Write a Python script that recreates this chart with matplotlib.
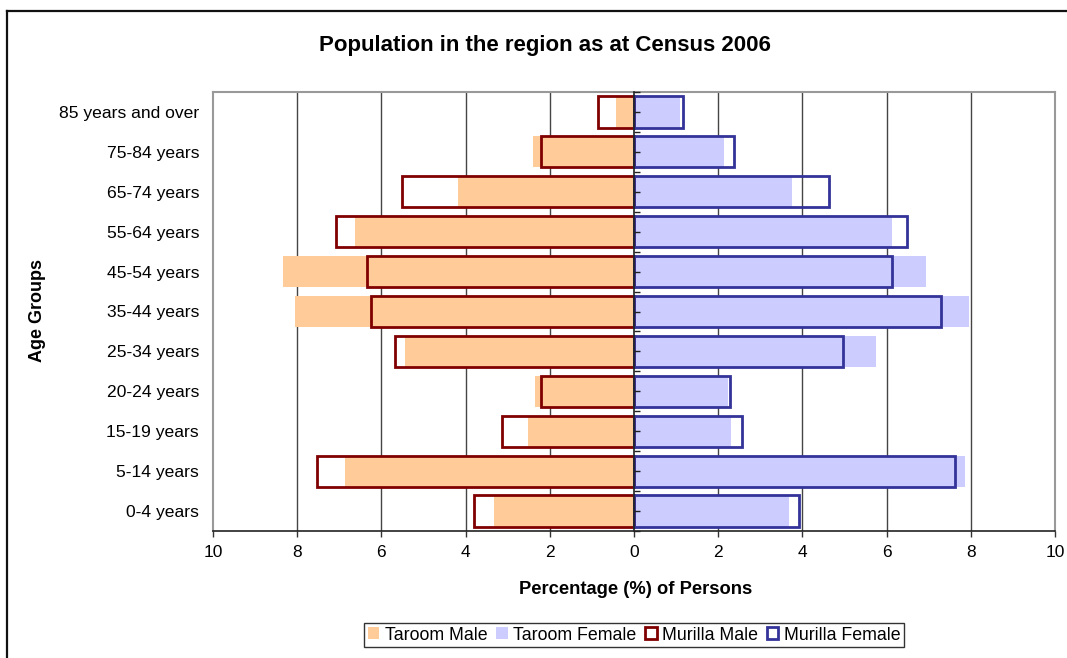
import matplotlib
matplotlib.use("Agg")
import matplotlib.pyplot as plt
from matplotlib.patches import Patch
from matplotlib.lines import Line2D
import numpy as np

plt.rcParams['font.family'] = ['Liberation Sans', 'DejaVu Sans']

categories = ["0-4 years", "5-14 years", "15-19 years", "20-24 years", "25-34 years",
              "35-44 years", "45-54 years", "55-64 years", "65-74 years", "75-84 years",
              "85 years and over"]
taroom_male = [3.33, 6.86, 2.52, 2.35, 5.43, 8.05, 8.33, 6.62, 4.19, 2.40, 0.43]
taroom_female = [3.67, 7.86, 2.31, 2.24, 5.76, 7.95, 6.93, 6.12, 3.76, 2.14, 1.10]
murilla_male = [3.79, 7.54, 3.13, 2.22, 5.68, 6.25, 6.35, 7.08, 5.52, 2.22, 0.86]
murilla_female = [3.93, 7.62, 2.57, 2.27, 4.97, 7.29, 6.13, 6.49, 4.63, 2.38, 1.17]
xticks = [-10, -8, -6, -4, -2, 0, 2, 4, 6, 8, 10]
xticklabels = ["10", "8", "6", "4", "2", "0", "2", "4", "6", "8", "10"]

c_tm = "#FFCC99"
c_tf = "#CCCCFF"
c_mm = "#800000"
c_mf = "#333399"

fig = plt.figure(figsize=(10.67, 6.58), dpi=100)
ax = fig.add_axes([213/1067, 1-531/658, (1055-213)/1067, (531-92)/658])

y = np.arange(len(categories))
h = 0.78
ax.barh(y, -np.array(taroom_male), height=h, color=c_tm, zorder=2)
ax.barh(y, taroom_female, height=h, color=c_tf, zorder=2)
ax.barh(y, -np.array(murilla_male), height=h, facecolor='none', edgecolor=c_mm, linewidth=2.0, zorder=3)
ax.barh(y, murilla_female, height=h, facecolor='none', edgecolor=c_mf, linewidth=2.0, zorder=3)

ax.set_xlim(-10, 10)
ax.set_ylim(-0.5, len(categories) - 0.5)
ax.set_xticks(xticks)
ax.set_xticklabels(xticklabels, fontsize=12.5)
ax.set_yticks(y)
ax.set_yticklabels(categories, fontsize=12.6)
ax.tick_params(axis='y', length=0, pad=10)
ax.tick_params(axis='x', length=4, width=1, color='#333333', pad=6, direction='out')
for xv in xticks[1:-1]:
    if xv != 0:
        ax.axvline(xv, color='#444444', linewidth=1.0, zorder=1)
for s in ['top', 'right', 'left']:
    ax.spines[s].set_color('#999999')
    ax.spines[s].set_linewidth(1.5)
ax.spines['bottom'].set_color('#222222')
ax.spines['bottom'].set_linewidth(1.2)

# central category axis at x = 0
ax2 = ax.twinx()
ax2.set_ylim(ax.get_ylim())
ax2.spines['right'].set_position(('data', 0))
ax2.spines['right'].set_color('#222222')
ax2.spines['right'].set_linewidth(1.2)
for s in ['top', 'left', 'bottom']:
    ax2.spines[s].set_visible(False)
ax2.set_yticks(np.arange(-0.5, len(categories), 1.0))
ax2.set_yticks(y, minor=True)
ax2.set_yticklabels([])
ax2.tick_params(axis='y', which='both', length=4, width=1, color='#222222', direction='out')
ax2.spines['right'].set_zorder(4)

fig.text(636/1067, 1-590/658, "Percentage (%) of Persons", fontsize=13.2, fontweight='bold',
         ha='center', va='center')
fig.text(38/1067, 1-311/658, "Age Groups", rotation=90, fontsize=13, fontweight='bold',
         ha='center', va='center')
fig.text(545/1067, 1-45/658, "Population in the region as at Census 2006", fontsize=16,
         fontweight='bold', ha='center', va='center')

handles = [Patch(facecolor=c_tm, edgecolor='none'),
           Patch(facecolor=c_tf, edgecolor='none'),
           Patch(facecolor='white', edgecolor=c_mm, linewidth=2),
           Patch(facecolor='white', edgecolor=c_mf, linewidth=2)]
labels = ["Taroom Male", "Taroom Female", "Murilla Male", "Murilla Female"]
leg = fig.legend(handles, labels, loc='center', bbox_to_anchor=(634/1067, 1-635/658), ncol=4,
                 fontsize=12.8, frameon=True, fancybox=False, handlelength=0.65, handleheight=0.65,
                 handletextpad=0.3, columnspacing=0.5, borderpad=0.2, borderaxespad=0)
leg.get_frame().set_edgecolor('black')
leg.get_frame().set_linewidth(1.0)

# outer chart border (cropped at right and bottom)
fig.add_artist(Line2D([7/1067, 1.0], [1-11/658, 1-11/658], transform=fig.transFigure,
                      color='#111111', linewidth=1.6))
fig.add_artist(Line2D([7/1067, 7/1067], [1-11/658, 0.0], transform=fig.transFigure,
                      color='#111111', linewidth=1.6))

fig.savefig("out.png", dpi=100)
